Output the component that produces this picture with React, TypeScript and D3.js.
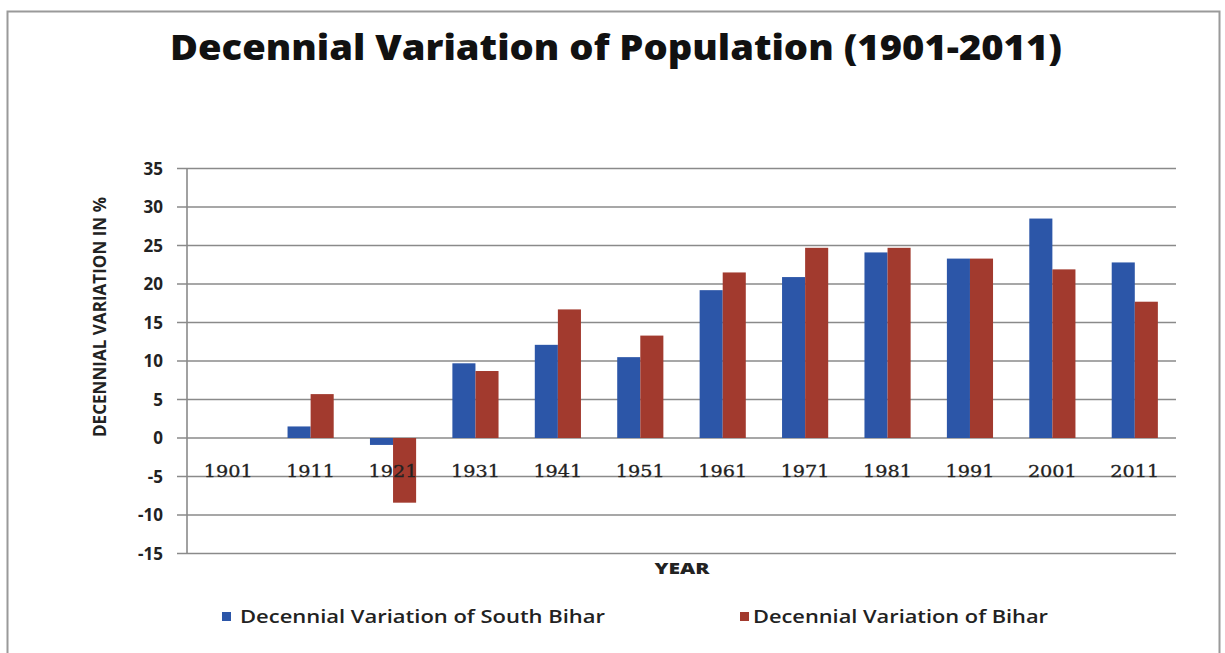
import React from "react";
import * as d3 from "d3";

const years = ["1901","1911","1921","1931","1941","1951","1961","1971","1981","1991","2001","2011"];
const southBihar = [0, 1.5, -0.9, 9.7, 12.1, 10.5, 19.2, 20.9, 24.1, 23.3, 28.5, 22.8];
const bihar = [0, 5.7, -8.4, 8.7, 16.7, 13.3, 21.5, 24.7, 24.7, 23.3, 21.9, 17.7];
const yTicks = [35, 30, 25, 20, 15, 10, 5, 0, -5, -10, -15];
const seriesNames = ["Decennial Variation of South Bihar", "Decennial Variation of Bihar"];
const colors = ["#2c56a8", "#a23a2e"];

export default function App() {
  const W = 1225, H = 653;
  const left = 187, right = 1176, top = 168.5, bottom = 553.5;
  const x = d3.scaleBand<string>().domain(years).range([left, right]).paddingInner(0.44).paddingOuter(0.22);
  const inner = d3.scaleBand<number>().domain([0, 1]).range([0, x.bandwidth()]);
  const y = d3.scaleLinear().domain([-15, 35]).range([bottom, top]);
  const series = [southBihar, bihar];
  const bodyFont = "'Open Sans', 'DejaVu Sans', sans-serif";
  return (
    <svg width={W} height={H} style={{ position: "absolute", left: 0, top: 0, background: "#fff" }}>
      <rect x={0} y={0} width={W} height={H} fill="#fff" />
      {/* chart frame */}
      <path d={`M7.5,${H} V11.5 H1219.5 V${H}`} fill="none" stroke="#9a9a9a" strokeWidth={2} />
      <text x={616} y={60} textAnchor="middle" fontFamily={bodyFont} fontWeight={800} fontSize={35}
        textLength={892} lengthAdjust="spacingAndGlyphs" fill="#111">
        Decennial Variation of Population (1901-2011)
      </text>
      {/* gridlines */}
      {yTicks.map((t) => (
        <line key={t} x1={177} x2={right} y1={y(t)} y2={y(t)} stroke="#8a8a8a" strokeWidth={1.6} />
      ))}
      <line x1={left} x2={left} y1={top} y2={bottom} stroke="#8a8a8a" strokeWidth={1.6} />
      {/* y tick labels */}
      {yTicks.map((t) => (
        <text key={t} x={163} y={y(t)} dy="0.36em" textAnchor="end" fontFamily={bodyFont} fontWeight={700}
          fontSize={17} fill="#222">{t}</text>
      ))}
      {/* bars */}
      {series.map((s, si) =>
        s.map((v, i) => {
          const y0 = y(0), y1 = y(v);
          return (
            <rect key={`${si}-${i}`} x={(x(years[i]) as number) + (inner(si) as number)} width={inner.bandwidth()}
              y={Math.min(y0, y1)} height={Math.abs(y1 - y0)} fill={colors[si]} />
          );
        })
      )}
      {/* category labels */}
      {years.map((yr) => (
        <text key={yr} x={(x(yr) as number) + x.bandwidth() / 2} y={477} textAnchor="middle"
          fontFamily="'DejaVu Serif', 'Liberation Serif', serif" fontSize={17.5} fill="#222"
          stroke="#222" strokeWidth={0.3}
          textLength={49} lengthAdjust="spacingAndGlyphs">{yr}</text>
      ))}
      <text x={100} y={317} transform="rotate(-90 100 317)" textAnchor="middle" dy="0.36em" fontFamily={bodyFont}
        fontWeight={700} fontSize={17} textLength={240} lengthAdjust="spacingAndGlyphs" fill="#222">
        DECENNIAL VARIATION IN %
      </text>
      <text x={682} y={569} textAnchor="middle" dy="0.36em" fontFamily={bodyFont} fontWeight={800} fontSize={15}
        textLength={55} lengthAdjust="spacingAndGlyphs" fill="#222">YEAR</text>
      {/* legend */}
      {[{ sx: 222, tx: 240, tw: 365 }, { sx: 740, tx: 753, tw: 295 }].map((l, i) => (
        <g key={i}>
          <rect x={l.sx} y={612} width={9} height={9} fill={colors[i]} />
          <text x={l.tx} y={617} dy="0.36em" fontFamily={bodyFont} fontWeight={600} fontSize={18} fill="#222"
            textLength={l.tw} lengthAdjust="spacingAndGlyphs">{seriesNames[i]}</text>
        </g>
      ))}
    </svg>
  );
}
